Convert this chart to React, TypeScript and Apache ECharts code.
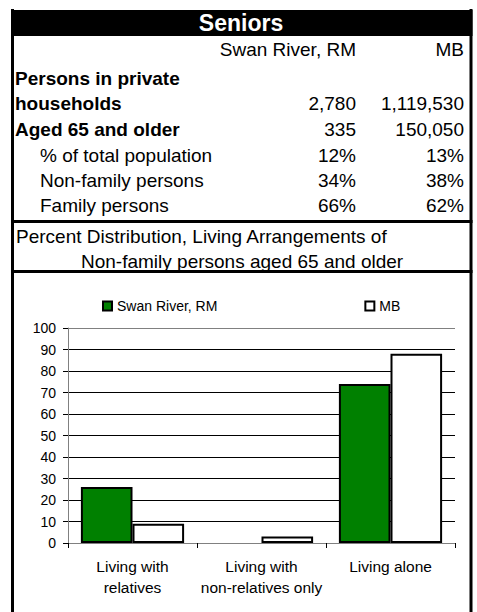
import React, { useEffect, useRef } from "react";
import * as echarts from "echarts";

const tableTitle = "Seniors";
const columnHeads = ["Swan River, RM", "MB"];
const rowLabels = [
  "Persons in private",
  "households",
  "Aged 65 and older",
  "% of total population",
  "Non-family persons",
  "Family persons",
];
const rowBold = [true, true, true, false, false, false];
const rowIndented = [false, false, false, true, true, true];
const swanColumn = ["", "2,780", "335", "12%", "34%", "66%"];
const mbColumn = ["", "1,119,530", "150,050", "13%", "38%", "62%"];
const chartTitleLines = [
  "Percent Distribution, Living Arrangements of",
  "Non-family persons aged 65 and older",
];
const categories = [
  "Living with\nrelatives",
  "Living with\nnon-relatives only",
  "Living alone",
];
const seriesNames = ["Swan River, RM", "MB"];
const swanValues = [26, 0, 74];
const mbValues = [9, 3, 88];
const yMin = 0;
const yMax = 100;
const yInterval = 10;

const FONT = '"Liberation Sans", Arial, sans-serif';
const rowY = [78, 103, 129, 155, 180, 205];

function txt(text: string, x: number, y: number, opts: any = {}) {
  const align = opts.align || "left";
  return {
    type: "text",
    x,
    y,
    silent: true,
    style: {
      text,
      fill: opts.fill || "#000",
      fontSize: opts.size || 19,
      fontWeight: opts.bold ? "bold" : "normal",
      fontFamily: FONT,
      align,
      textAlign: align,
      verticalAlign: "middle",
      textVerticalAlign: "middle",
    },
  };
}

export default function App() {
  const ref = useRef<HTMLDivElement>(null);
  useEffect(() => {
    if (!ref.current) return;
    const chart = echarts.init(ref.current, null, { renderer: "svg" });

    const graphics: any[] = [];
    // frame
    graphics.push({ type: "rect", silent: true, shape: { x: 11, y: 9, width: 3, height: 603 }, style: { fill: "#000" } });
    graphics.push({ type: "rect", silent: true, shape: { x: 469.5, y: 9, width: 3, height: 603 }, style: { fill: "#000" } });
    graphics.push({ type: "rect", silent: true, shape: { x: 11, y: 10, width: 461.5, height: 26 }, style: { fill: "#000" } });
    graphics.push({ type: "rect", silent: true, shape: { x: 11, y: 220, width: 461.5, height: 3 }, style: { fill: "#000" } });
    graphics.push({ type: "rect", silent: true, shape: { x: 11, y: 270, width: 461.5, height: 3 }, style: { fill: "#000" } });
    // title
    graphics.push(txt(tableTitle, 241, 23, { align: "center", bold: true, size: 23, fill: "#fff" }));
    graphics.push(txt(columnHeads[0], 356, 49, { align: "right" }));
    graphics.push(txt(columnHeads[1], 464, 49, { align: "right" }));
    rowLabels.forEach((lab, i) => {
      graphics.push(txt(lab, rowIndented[i] ? 40 : 15, rowY[i], { bold: rowBold[i] }));
      if (swanColumn[i]) graphics.push(txt(swanColumn[i], 356, rowY[i], { align: "right" }));
      if (mbColumn[i]) graphics.push(txt(mbColumn[i], 464, rowY[i], { align: "right" }));
    });
    graphics.push(txt(chartTitleLines[0], 16, 236));
    graphics.push(txt(chartTitleLines[1], 81, 261));

    const gridColors: string[] = [];
    for (let v = yMin; v <= yMax; v += yInterval) gridColors.push(v === yMax ? "#808080" : "#000");

    chart.setOption({
      animation: false,
      backgroundColor: "#fff",
      textStyle: { fontFamily: FONT },
      graphic: graphics,
      legend: {
        data: seriesNames,
        left: 97,
        top: 294,
        icon: "rect",
        itemWidth: 9,
        itemHeight: 9,
        itemGap: 147,
        textStyle: { fontSize: 14, color: "#000", fontFamily: FONT },
        itemStyle: { borderColor: "#000", borderWidth: 2 },
      },
      grid: { left: 68, right: 22, top: 328, bottom: 69 },
      xAxis: {
        type: "category",
        data: categories,
        axisLine: { show: true, lineStyle: { color: "#808080", width: 1 } },
        axisTick: { show: true, length: 5, interval: 0, lineStyle: { color: "#000" } },
        axisLabel: {
          interval: 0,
          margin: 13,
          fontSize: 15.5,
          lineHeight: 21,
          color: "#000",
          fontFamily: FONT,
        },
        splitLine: { show: false },
      },
      yAxis: {
        type: "value",
        min: yMin,
        max: yMax,
        interval: yInterval,
        axisLine: { show: true, lineStyle: { color: "#808080", width: 1 } },
        axisTick: { show: true, length: 5, lineStyle: { color: "#000" } },
        axisLabel: { margin: 12, fontSize: 14, color: "#000", fontFamily: FONT },
        splitLine: { show: true, lineStyle: { color: gridColors, width: 1 } },
      },
      series: [
        {
          name: seriesNames[0],
          type: "bar",
          data: swanValues.map((v) => (v === 0 ? { value: v, itemStyle: { borderWidth: 0 } } : v)),
          barGap: "0%",
          barCategoryGap: "20%",
          itemStyle: { color: "#008000", borderColor: "#000", borderWidth: 2 },
        },
        {
          name: seriesNames[1],
          type: "bar",
          data: mbValues,
          barGap: "0%",
          barCategoryGap: "20%",
          itemStyle: { color: "#ffffff", borderColor: "#000", borderWidth: 2 },
        },
      ],
    });
    return () => chart.dispose();
  }, []);
  return (
    <div
      ref={ref}
      style={{ position: "absolute", left: 0, top: 0, width: 477, height: 612, background: "#fff" }}
    />
  );
}
